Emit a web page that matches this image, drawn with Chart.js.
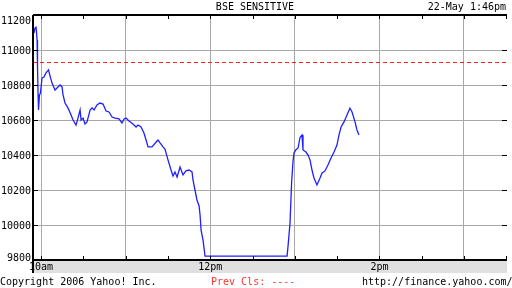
<!DOCTYPE html>
<html>
<head>
<meta charset="utf-8">
<script src="https://cdn.jsdelivr.net/npm/chart.js@4.4.0/dist/chart.umd.min.js"></script>
<style>
  body { margin: 0; background: #fff; }
  #wrap { width: 512px; height: 288px; }
</style>
</head>
<body>
<div id="wrap"><canvas id="grafico" width="512" height="288"></canvas></div>
<script>
// minutes after 10:00 (negative = before the hour)
const minutos = [
  -5.0, -4.3, -3.5, -2.8, -2.5, -2.1, -1.8, -1.1, -0.4, 0.7, 2.1, 3.5, 5.3, 6.4, 7.8, 9.9,
  11.3, 13.5, 14.9, 15.6, 17.0, 19.1, 21.3, 22.7, 24.8, 26.2, 27.7, 28.4, 29.8, 31.2, 32.6,
  34.8, 36.2, 37.6, 39.7, 41.8, 44.0, 46.1, 48.2, 50.4, 52.5, 55.3, 57.4, 58.9, 60.3, 62.4,
  65.2, 67.4, 68.8, 70.9, 73.0, 74.5, 75.9, 78.7, 82.3, 83.0, 84.4, 86.5, 87.9, 90.1, 92.2,
  93.6, 95.0, 96.5, 98.6, 100.7, 102.8, 105.0, 107.1, 107.8, 109.2, 110.6, 112.1, 112.8,
  113.5, 114.9, 115.6, 116.3, 174.5, 175.2, 176.6, 177.7, 178.7, 179.4, 180.8, 182.3, 183.0,
  183.7, 185.1, 185.8, 187.9, 189.4, 190.8, 192.2, 193.6, 195.7, 197.9, 199.3, 201.4, 203.5,
  205.7, 207.8, 209.9, 211.3, 212.8, 214.9, 217.0, 219.1, 220.6, 222.7, 224.1, 225.5
];
const sensex = [
  11097, 11125, 11130, 11057, 10903, 10743, 10657, 10743, 10754, 10840, 10846, 10869, 10886, 10851, 10811, 10771,
  10783, 10800, 10789, 10743, 10697, 10669, 10629, 10600, 10571, 10611, 10657, 10600, 10611, 10577, 10589,
  10657, 10669, 10657, 10686, 10697, 10691, 10651, 10646, 10617, 10611, 10606, 10583, 10606, 10611, 10594,
  10577, 10560, 10571, 10560, 10526, 10486, 10446, 10446, 10480, 10486, 10469, 10446, 10434, 10371, 10314,
  10280, 10303, 10274, 10331, 10286, 10309, 10314, 10303, 10257, 10200, 10143, 10109, 10057,
  9971, 9914, 9869, 9822, 9822, 9880, 10010, 10240, 10360, 10411, 10430, 10440, 10470,
  10500, 10514, 10429, 10417, 10400, 10371, 10314, 10269, 10229, 10269, 10297, 10309, 10343,
  10383, 10417, 10457, 10514, 10560, 10589, 10629, 10667, 10646, 10589, 10543, 10514
];
const fechamentoAnterior = 10934;
const yTicks = [9800, 10000, 10200, 10400, 10600, 10800, 11000, 11200];
const marcasX = [0, 30, 60, 90, 120, 150, 180, 210, 240, 270, 300, 330];
const horasRotulo = ["10am", "12pm", "2pm"];
const horasPos = [0, 120, 240];
const xMin = -5.7, xMax = 330.5;

const fonte = '10px "DejaVu Sans Mono", "Liberation Mono", monospace';

const pontos = minutos.map((m, i) => ({ x: m, y: sensex[i] }));

/* moldura, marcas e textos no estilo Yahoo */
const molduraYahoo = {
  id: "molduraYahoo",
  beforeDatasetsDraw(chart) {
    // linha tracejada do fechamento anterior
    const ctx = chart.ctx;
    const a = chart.chartArea;
    const y = Math.round(chart.scales.y.getPixelForValue(fechamentoAnterior)) + 0.5;
    ctx.save();
    ctx.strokeStyle = "#ff2020";
    ctx.lineWidth = 1;
    ctx.setLineDash([4, 3]);
    ctx.beginPath();
    ctx.moveTo(a.left, y);
    ctx.lineTo(a.right, y);
    ctx.stroke();
    ctx.restore();
  },
  afterDraw(chart) {
    const ctx = chart.ctx;
    const a = chart.chartArea;
    const xs = chart.scales.x;
    const ys = chart.scales.y;
    ctx.save();

    // faixa cinza das horas
    ctx.fillStyle = "#e0e0e0";
    ctx.fillRect(a.left, a.bottom, a.right - a.left, 13);
    ctx.font = fonte;
    ctx.fillStyle = "#000";
    ctx.textAlign = "center";
    ctx.textBaseline = "middle";
    horasRotulo.forEach((r, i) => ctx.fillText(r, xs.getPixelForValue(horasPos[i]), a.bottom + 7.5));

    // marcas curtas
    ctx.strokeStyle = "#000";
    ctx.lineWidth = 1;
    ctx.beginPath();
    marcasX.forEach(v => {
      const x = Math.round(xs.getPixelForValue(v)) + 0.5;
      ctx.moveTo(x, a.top); ctx.lineTo(x, a.top + 4);
      ctx.moveTo(x, a.bottom); ctx.lineTo(x, a.bottom - 4);
    });
    yTicks.forEach(v => {
      const y = Math.round(ys.getPixelForValue(v)) + 0.5;
      ctx.moveTo(a.left, y); ctx.lineTo(a.left + 5, y);
      ctx.moveTo(a.right - 5, y); ctx.lineTo(a.right, y);
    });
    ctx.stroke();

    // bordas
    ctx.lineWidth = 2;
    ctx.beginPath();
    ctx.moveTo(a.left, a.top); ctx.lineTo(a.right, a.top);
    ctx.moveTo(a.left, a.bottom); ctx.lineTo(a.right, a.bottom);
    ctx.moveTo(a.left, a.top); ctx.lineTo(a.left, a.bottom + 13);
    ctx.stroke();

    // rotulos do eixo y
    ctx.textAlign = "right";
    yTicks.forEach((v, i) => {
      let y = ys.getPixelForValue(v) + 1;
      if (i === yTicks.length - 1) y += 5;
      if (i === 0) y -= 3;
      ctx.fillText(String(v), 31, y);
    });

    // titulo e rodape
    ctx.textAlign = "center";
    ctx.fillText("BSE SENSITIVE", 255, 7);
    ctx.textAlign = "right";
    ctx.fillText("22-May 1:46pm", 506, 7);
    ctx.textAlign = "left";
    ctx.fillText("Copyright 2006 Yahoo! Inc.", 0, 282);
    ctx.fillStyle = "#ff3333";
    ctx.fillText("Prev Cls: ----", 211, 282);
    ctx.fillStyle = "#000";
    ctx.fillText("http://finance.yahoo.com/", 362, 282);
    ctx.restore();
  }
};

new Chart(document.getElementById("grafico"), {
  type: "line",
  data: {
    datasets: [
      {
        data: pontos,
        borderColor: "#1f1fff",
        borderWidth: 1.3,
        pointRadius: 0,
        tension: 0
      }
    ]
  },
  options: {
    responsive: false,
    animation: false,
    layout: { padding: { top: 15, right: 5, left: 0, bottom: 0 } },
    plugins: { legend: { display: false }, tooltip: { enabled: false } },
    scales: {
      x: {
        type: "linear",
        min: xMin,
        max: xMax,
        afterBuildTicks: s => { s.ticks = [0, 60, 120, 180, 240, 300].map(v => ({ value: v })); },
        afterFit: s => { s.height = 28; },
        ticks: { display: false },
        border: { display: false },
        grid: { color: "#a8a8a8", drawTicks: false }
      },
      y: {
        min: 9800,
        max: 11200,
        afterBuildTicks: s => { s.ticks = yTicks.map(v => ({ value: v })); },
        afterFit: s => { s.width = 33; },
        ticks: { display: false },
        border: { display: false },
        grid: { color: "#a8a8a8", drawTicks: false }
      }
    }
  },
  plugins: [molduraYahoo]
});
</script>
</body>
</html>
